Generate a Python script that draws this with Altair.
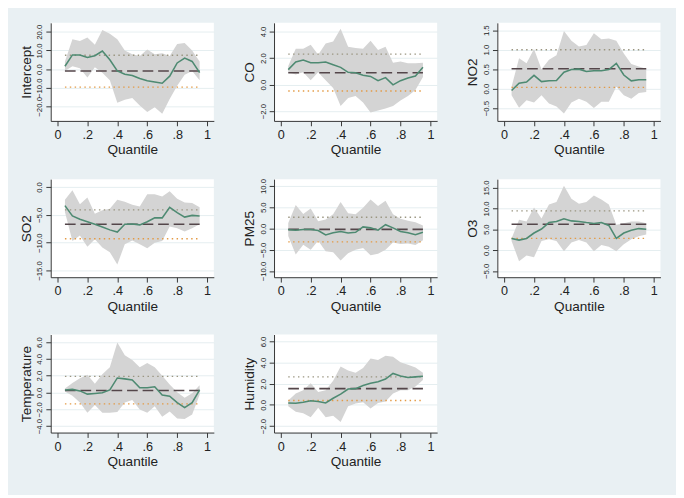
import altair as alt
import pandas as pd

quantiles = [0.05, 0.10, 0.15, 0.20, 0.25, 0.30, 0.35, 0.40, 0.45, 0.50,
             0.55, 0.60, 0.65, 0.70, 0.75, 0.80, 0.85, 0.90, 0.95]

intercept_coef = [1.5, 7.6, 7.6, 6.2, 7.2, 9.7, 5.0, -1.0, -2.8, -3.4, -5.0, -6.2, -6.9, -7.6, -3.8, 3.3, 5.9, 4.1, -1.9]
intercept_hi = [4.0, 16.0, 15.0, 17.0, 13.0, 21.0, 19.0, 16.0, 10.0, 8.0, 7.0, 10.5, 8.0, 8.5, 7.0, 13.5, 14.0, 10.0, 4.0]
intercept_lo = [-1.0, 1.5, 0.5, -4.5, 1.0, -2.0, -6.0, -18.0, -16.5, -15.5, -19.5, -23.0, -20.5, -24.0, -16.0, -9.0, -3.0, -1.0, -6.0]
intercept_ols = [-1.0, -9.7, 7.4]

co_coef = [1.13, 1.7, 1.85, 1.65, 1.65, 1.7, 1.5, 1.3, 0.93, 0.9, 0.7, 0.62, 0.3, 0.53, -0.02, 0.3, 0.5, 0.65, 1.3]
co_hi = [1.4, 2.7, 2.7, 3.0, 2.25, 3.1, 3.25, 4.2, 2.85, 2.75, 2.7, 3.3, 2.6, 2.85, 1.65, 1.75, 1.6, 1.6, 1.65]
co_lo = [0.93, 0.77, 0.93, 0.33, 0.93, 0.33, -0.25, -1.6, -1.0, -0.85, -1.35, -2.1, -1.95, -1.8, -1.6, -1.2, -0.85, -0.4, 0.57]
co_ols = [0.9, -0.48, 2.3]

no2_coef = [-0.05, 0.14, 0.17, 0.34, 0.18, 0.2, 0.21, 0.42, 0.49, 0.5, 0.44, 0.46, 0.46, 0.49, 0.65, 0.35, 0.2, 0.23, 0.23]
no2_hi = [0.05, 0.78, 0.65, 1.02, 0.5, 0.74, 0.86, 1.48, 1.23, 1.08, 1.12, 1.42, 1.27, 1.29, 1.23, 0.9, 0.63, 0.57, 0.51]
no2_lo = [-0.17, -0.49, -0.3, -0.36, -0.17, -0.38, -0.46, -0.64, -0.36, -0.26, -0.34, -0.5, -0.34, -0.34, 0.05, -0.17, -0.26, -0.11, -0.09]
no2_ols = [0.51, 0.03, 1.0]

so2_coef = [-3.35, -5.2, -5.8, -6.25, -6.7, -7.2, -7.7, -8.1, -6.7, -6.65, -6.8, -6.25, -5.55, -5.55, -3.65, -4.6, -5.4, -5.1, -5.2]
so2_hi = [-2.3, -0.6, -3.1, -1.9, -4.8, -4.2, -3.9, -2.3, -2.65, -3.2, -3.5, -1.3, -1.3, -1.7, -0.75, -2.1, -2.8, -2.9, -3.65]
so2_lo = [-4.5, -9.7, -8.7, -10.75, -9.4, -10.85, -11.7, -13.9, -10.3, -9.6, -10.3, -11.0, -10.0, -9.7, -7.1, -7.4, -8.0, -7.4, -6.7]
so2_ols = [-6.7, -9.3, -4.1]

pm25_coef = [-0.3, -0.4, -0.23, -0.23, -0.46, -1.5, -1.0, -0.7, -1.07, -0.9, 0.38, 0.15, -0.4, 0.9, 0.15, -0.7, -1.0, -1.45, -0.9]
pm25_hi = [1.3, 5.5, 3.4, 4.7, 1.7, 2.1, 3.35, 6.25, 3.6, 3.35, 4.9, 6.8, 5.3, 6.55, 3.35, 2.3, 1.8, 1.45, 0.7]
pm25_lo = [-1.75, -6.1, -3.8, -5.0, -2.9, -5.35, -5.6, -7.5, -5.8, -5.0, -4.6, -6.3, -5.95, -5.0, -3.3, -3.65, -3.5, -3.9, -2.75]
pm25_ols = [-0.2, -3.15, 2.65]

o3_coef = [2.8, 2.4, 2.8, 4.1, 5.05, 6.6, 6.85, 7.5, 7.0, 6.85, 6.6, 6.4, 6.6, 5.9, 2.8, 4.1, 4.75, 5.15, 5.0]
o3_hi = [2.8, 7.25, 6.85, 10.2, 7.6, 10.9, 11.5, 15.4, 12.3, 11.1, 11.5, 13.1, 12.1, 10.9, 6.1, 6.45, 6.85, 6.85, 6.45]
o3_lo = [2.2, -2.65, -1.3, -1.7, 2.2, 2.6, 2.2, -0.3, 1.8, 2.4, 1.8, -0.3, 1.25, 0.8, -0.3, 1.4, 2.6, 3.35, 3.75]
o3_ols = [6.2, 2.8, 9.4]

temp_coef = [0.3, 0.37, 0.19, -0.19, -0.11, -0.04, 0.3, 1.73, 1.62, 1.5, 0.56, 0.56, 0.68, -0.3, -0.45, -1.2, -1.8, -1.2, 0.3]
temp_hi = [0.49, 1.13, 1.7, 2.1, 1.05, 2.18, 3.0, 5.94, 4.44, 3.87, 3.0, 3.5, 3.0, 2.0, 0.94, 0.04, -0.64, -0.08, 0.86]
temp_lo = [0.11, -0.38, -1.2, -2.4, -1.5, -2.4, -2.4, -2.33, -1.2, -0.9, -2.03, -2.4, -1.65, -2.9, -2.26, -3.08, -3.16, -2.63, -0.26]
temp_ols = [0.23, -1.35, 1.92]

hum_coef = [0.18, 0.15, 0.24, 0.39, 0.33, 0.18, 0.63, 1.02, 1.5, 1.54, 1.84, 2.05, 2.2, 2.44, 2.98, 2.74, 2.6, 2.65, 2.71]
hum_hi = [0.42, 1.08, 1.39, 2.05, 1.23, 1.39, 2.29, 3.64, 3.25, 3.04, 3.5, 4.4, 4.25, 4.64, 4.55, 4.04, 3.8, 3.55, 3.04]
hum_lo = [-0.12, -0.66, -0.78, -1.17, -0.27, -1.17, -1.02, -1.63, -0.12, 0.12, 0.24, -0.33, 0.18, 0.33, 1.08, 1.39, 1.39, 1.75, 2.35]
hum_ols = [1.54, 0.42, 2.65]

panel_names = ["Intercept", "CO", "NO2", "SO2", "PM25", "O3", "Temperature", "Humidity"]
y_ticks = [
    [-20, -10, 0, 10, 20],
    [-2, 0, 2, 4],
    [-0.5, 0, 0.5, 1.0, 1.5],
    [-15, -10, -5, 0],
    [-10, -5, 0, 5, 10],
    [-5, 0, 5, 10, 15],
    [-4, -2, 0, 2, 4, 6],
    [-2, 0, 2, 4, 6],
]
y_domains = [
    [-27.8, 24.8], [-2.73, 4.65], [-0.83, 1.69], [-16.2, 1.4],
    [-11.45, 11.6], [-6.5, 17.0], [-4.77, 6.9], [-2.62, 6.66],
]
series = [
    (intercept_coef, intercept_lo, intercept_hi, intercept_ols),
    (co_coef, co_lo, co_hi, co_ols),
    (no2_coef, no2_lo, no2_hi, no2_ols),
    (so2_coef, so2_lo, so2_hi, so2_ols),
    (pm25_coef, pm25_lo, pm25_hi, pm25_ols),
    (o3_coef, o3_lo, o3_hi, o3_ols),
    (temp_coef, temp_lo, temp_hi, temp_ols),
    (hum_coef, hum_lo, hum_hi, hum_ols),
]
x_ticks = [0, 0.2, 0.4, 0.6, 0.8, 1]

W, H = 168, 101
FONT = "Liberation Sans"


def panel(name, coef, lo, hi, ols, dom, ticks):
    df = pd.DataFrame({"q": quantiles, "coef": coef, "lo": lo, "hi": hi})
    ols_df = pd.DataFrame({"q0": [quantiles[0]], "q1": [quantiles[-1]],
                           "b": [ols[0]], "blo": [ols[1]], "bhi": [ols[2]]})
    x_scale = alt.Scale(domain=[-0.045, 1.045], nice=False, zero=False)
    x_axis = alt.Axis(values=x_ticks, grid=False, labelOverlap=False,
                      labelFlush=False, labelSeparation=-60, tickCount=6,
                      labelExpr="datum.value == 0 ? '0' : datum.value == 1 ? '1' : replace(format(datum.value, '.1f'), '0.', '.')")
    y_scale = alt.Scale(domain=dom, nice=False, zero=False)
    y_axis = alt.Axis(values=ticks, format=".1f", grid=True, labelAngle=-90,
                      labelAlign="center", labelBaseline="bottom",
                      labelOverlap=False, labelFlush=False, labelSeparation=-60,
                      tickCount=len(ticks))
    xq = alt.X("q:Q", title="Quantile", scale=x_scale, axis=x_axis)
    yl = alt.Y("lo:Q", title=name, scale=y_scale, axis=y_axis)
    band = alt.Chart(df).mark_area(color="#d4d4d4", opacity=1).encode(
        x=xq, y=yl, y2="hi:Q")
    line = alt.Chart(df).mark_line(color="#4e8a72", strokeWidth=1.6).encode(
        x=xq, y=alt.Y("coef:Q", title=name, scale=y_scale, axis=y_axis))
    ols_line = alt.Chart(ols_df).mark_rule(color="#54464a", strokeWidth=1.6,
                                          strokeDash=[11, 5]).encode(
        x=alt.X("q0:Q", title="Quantile", scale=x_scale, axis=x_axis), x2="q1:Q",
        y=alt.Y("b:Q", title=name, scale=y_scale, axis=y_axis))
    ols_hi = alt.Chart(ols_df).mark_rule(color="#9a9580", strokeWidth=1.4,
                                        strokeDash=[1.5, 3.5]).encode(
        x=alt.X("q0:Q", title="Quantile", scale=x_scale, axis=x_axis), x2="q1:Q",
        y=alt.Y("bhi:Q", title=name, scale=y_scale, axis=y_axis))
    ols_lo = alt.Chart(ols_df).mark_rule(color="#e39a45", strokeWidth=1.4,
                                        strokeDash=[1.5, 3.5]).encode(
        x=alt.X("q0:Q", title="Quantile", scale=x_scale, axis=x_axis), x2="q1:Q",
        y=alt.Y("blo:Q", title=name, scale=y_scale, axis=y_axis))
    return alt.layer(band, ols_hi, ols_lo, ols_line, line).properties(width=W, height=H)


panels = [panel(n, *s, d, t) for n, s, d, t in zip(panel_names, series, y_domains, y_ticks)]

chart = alt.concat(*panels, columns=3, spacing={"row": 22, "column": 30}).properties(
    background="#e9f0f3",
    padding={"left": 11, "top": 8, "right": 16, "bottom": 20},
).configure_view(
    fill="white", stroke=None
).configure_axis(
    labelFont=FONT, titleFont=FONT, titleFontWeight="normal",
    domainColor="#333333", tickColor="#333333", labelColor="#222222",
    titleColor="#222222", gridColor="#e4edf0", gridWidth=1, tickSize=5,
    labelOverlap=False, labelFlush=False,
).configure_axisX(
    labelFontSize=13, titleFontSize=14, labelPadding=3, titlePadding=2,
).configure_axisY(
    labelFontSize=8, titleFontSize=14, labelPadding=2, titlePadding=3,
)

chart.save("out.html", embed_options={"renderer": "svg", "actions": False})
